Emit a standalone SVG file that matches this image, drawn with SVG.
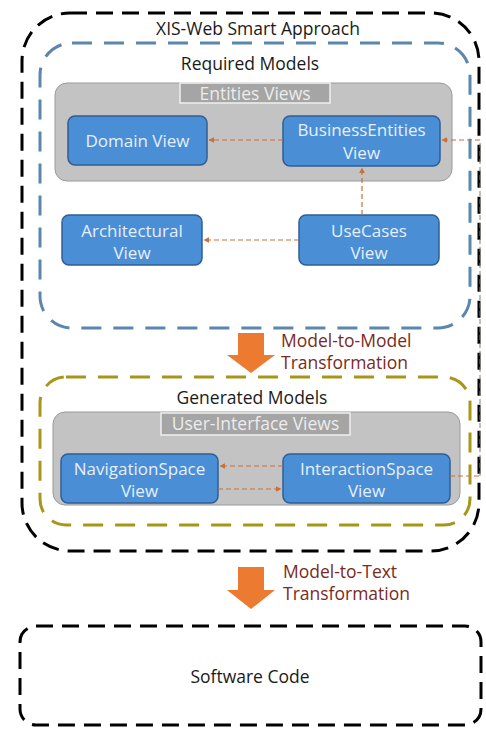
<svg xmlns="http://www.w3.org/2000/svg" width="486" height="729" viewBox="0 0 486 729">
<defs>
<style>
.t{font-family:"Open Sans","Liberation Sans",sans-serif;text-anchor:middle}
.dark{fill:#1a1a1a;font-size:17.5px}
.red{fill:#7a2a1e;font-size:17.5px;text-anchor:start}
.node rect{fill:#4a8ed6;stroke:#2f5f94;stroke-width:1.5}
.node text{fill:#e6f0fa;font-size:17px}
.grp{fill:#c3c3c3;stroke:#9a9a9a;stroke-width:1}
.lbl{fill:#a5a5a5;stroke:#f0f0f0;stroke-width:1.5}
.lbltxt{fill:#ececec;font-size:17.5px}
.conn{fill:none;stroke:#c8703a;stroke-width:1.2;stroke-dasharray:5 3}
.conng{fill:none;stroke:#8a7a6a;stroke-width:1;stroke-dasharray:5 3}
.big{fill:#ec7a30}
</style>
<marker id="ah" viewBox="0 0 10 10" refX="9" refY="5" markerWidth="5" markerHeight="5" orient="auto"><path d="M0,0 L10,5 L0,10 z" fill="#c8703a"/></marker>
</defs>
<rect width="486" height="729" fill="#ffffff"/>

<g id="outer">
<rect x="22" y="13" width="457" height="538" rx="48" fill="none" stroke="#000" stroke-width="3" stroke-dasharray="17 9"/>
<text class="t dark" x="258" y="35">XIS-Web Smart Approach</text>
</g>

<g id="required">
<rect x="40" y="43" width="430" height="285" rx="32" fill="none" stroke="#5b87ae" stroke-width="3" stroke-dasharray="20 12"/>
<text class="t dark" x="250" y="70">Required Models</text>
</g>

<g id="entities-views">
<rect class="grp" x="55" y="83" width="397" height="98" rx="12"/>
<rect class="lbl" x="180" y="83" width="150" height="20"/>
<text class="t lbltxt" x="255" y="100">Entities Views</text>
</g>

<g id="domain" class="node">
<rect x="68" y="116" width="139" height="49" rx="7"/>
<text class="t" x="137.5" y="147">Domain View</text>
</g>
<g id="business" class="node">
<rect x="283" y="116" width="157" height="50" rx="7"/>
<text class="t" x="361.5" y="136">BusinessEntities</text>
<text class="t" x="361.5" y="159">View</text>
</g>
<g id="architectural" class="node">
<rect x="62" y="215" width="140" height="50" rx="7"/>
<text class="t" x="132" y="237">Architectural</text>
<text class="t" x="132" y="259">View</text>
</g>
<g id="usecases" class="node">
<rect x="299" y="215" width="140" height="50" rx="7"/>
<text class="t" x="369" y="237">UseCases</text>
<text class="t" x="369" y="259">View</text>
</g>

<g id="m2m">
<path class="big" d="M238,333 H264 V355 H275 L251,373 L227,355 H238 Z"/>
<text class="t red" x="281" y="347">Model-to-Model</text>
<text class="t red" x="281" y="369">Transformation</text>
</g>

<g id="generated">
<rect x="40" y="377" width="430" height="148" rx="26" fill="none" stroke="#a8961a" stroke-width="3" stroke-dasharray="20 12"/>
<text class="t dark" x="252" y="404">Generated Models</text>
</g>

<g id="ui-views">
<rect class="grp" x="53" y="412" width="407" height="93" rx="12"/>
<rect class="lbl" x="161" y="413" width="189" height="22"/>
<text class="t lbltxt" x="255.5" y="430">User-Interface Views</text>
</g>

<g id="navigation" class="node">
<rect x="61" y="454" width="157" height="49" rx="7"/>
<text class="t" x="139.5" y="475">NavigationSpace</text>
<text class="t" x="139.5" y="497">View</text>
</g>
<g id="interaction" class="node">
<rect x="283" y="454" width="167" height="49" rx="7"/>
<text class="t" x="366.5" y="475">InteractionSpace</text>
<text class="t" x="366.5" y="497">View</text>
</g>

<g id="connectors">
<path class="conn" d="M283,140 H209" marker-end="url(#ah)"/>
<path class="conn" d="M362,215 V168" marker-end="url(#ah)"/>
<path class="conn" d="M299,240 H204" marker-end="url(#ah)"/>
<path class="conn" d="M283,466 H220" marker-end="url(#ah)"/>
<path class="conn" d="M218,489 H281" marker-end="url(#ah)"/>
<path class="conn" d="M450,476 H480"/>
<path class="conng" d="M480,476 V140"/>
<path class="conn" d="M480,140 H442" marker-end="url(#ah)"/>
</g>

<g id="m2t">
<path class="big" d="M238,567 H264 V590 H275 L251,609 L227,590 H238 Z"/>
<text class="t red" x="283" y="578">Model-to-Text</text>
<text class="t red" x="283" y="600">Transformation</text>
</g>

<g id="software">
<rect x="20" y="626" width="461" height="99" rx="16" fill="none" stroke="#000" stroke-width="3" stroke-dasharray="17 9"/>
<text class="t dark" x="250" y="683">Software Code</text>
</g>
</svg>
